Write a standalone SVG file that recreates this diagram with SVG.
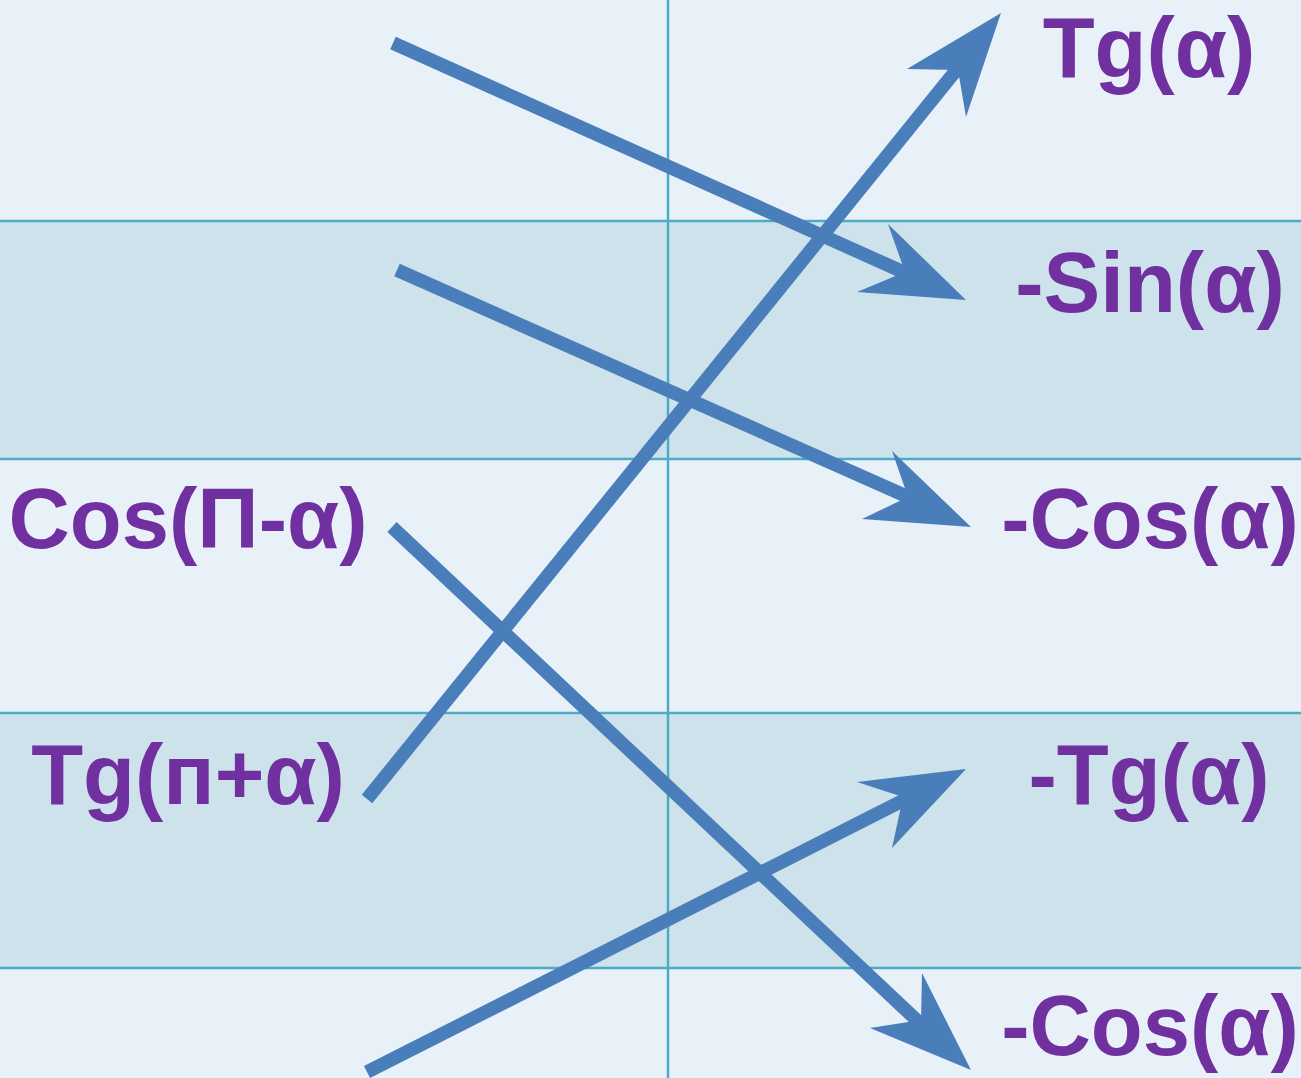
<svg xmlns="http://www.w3.org/2000/svg" width="1301" height="1078" viewBox="0 0 1301 1078">
<style>
.lt{fill:#E8F1F8}
.dk{fill:#CDE2EA}
.grid{stroke:#4BACC6;stroke-width:2.5;fill:none}
.shaft{stroke:#4A7EBB;stroke-width:13.5;fill:none}
.head{fill:#4A7EBB}
.lbl{font-family:"Liberation Sans",Arial,sans-serif;font-weight:bold;font-size:85px;fill:#7030A0;text-anchor:middle}
</style>
<g id="background">
<rect class="lt" x="0" y="0" width="1301" height="221"/>
<rect class="dk" x="0" y="221" width="1301" height="238"/>
<rect class="lt" x="0" y="459" width="1301" height="254"/>
<rect class="dk" x="0" y="713" width="1301" height="255"/>
<rect class="lt" x="0" y="968" width="1301" height="110"/>
<path class="grid" d="M0 221H1301M0 459H1301M0 713H1301M0 968H1301M668 0V1078"/>
</g>
<g id="connectors">
<line class="shaft" x1="393" y1="43" x2="910" y2="275"/>
<polygon class="head" points="966,300 888,224 905,272 857,292"/>
<line class="shaft" x1="397" y1="270" x2="915" y2="500"/>
<polygon class="head" points="971,527 892,451 908,497 862,519"/>
<line class="shaft" x1="392" y1="527" x2="925" y2="1028"/>
<polygon class="head" points="971,1070 922,973 921,1020 870,1028"/>
<line class="shaft" x1="367" y1="799" x2="962" y2="63"/>
<polygon class="head" points="1001,13 907,69 958,70 966,117"/>
<line class="shaft" x1="367" y1="1072" x2="908" y2="798"/>
<polygon class="head" points="966,769 857,782 903,797 892,848"/>
</g>
<g id="node-tg-a"><text class="lbl" x="1149" y="77">Tg(α)</text></g>
<g id="node-neg-sin"><text class="lbl" x="1150" y="312">-Sin(α)</text></g>
<g id="node-neg-cos1"><text class="lbl" x="1150" y="548">-Cos(α)</text></g>
<g id="node-neg-tg"><text class="lbl" x="1149" y="804">-Tg(α)</text></g>
<g id="node-neg-cos2"><text class="lbl" x="1150" y="1055">-Cos(α)</text></g>
<g id="node-cos-pi"><text class="lbl" x="188" y="548">Cos(Π-α)</text></g>
<g id="node-tg-pi"><text class="lbl" x="188" y="804">Tg(п+α)</text></g>
</svg>
